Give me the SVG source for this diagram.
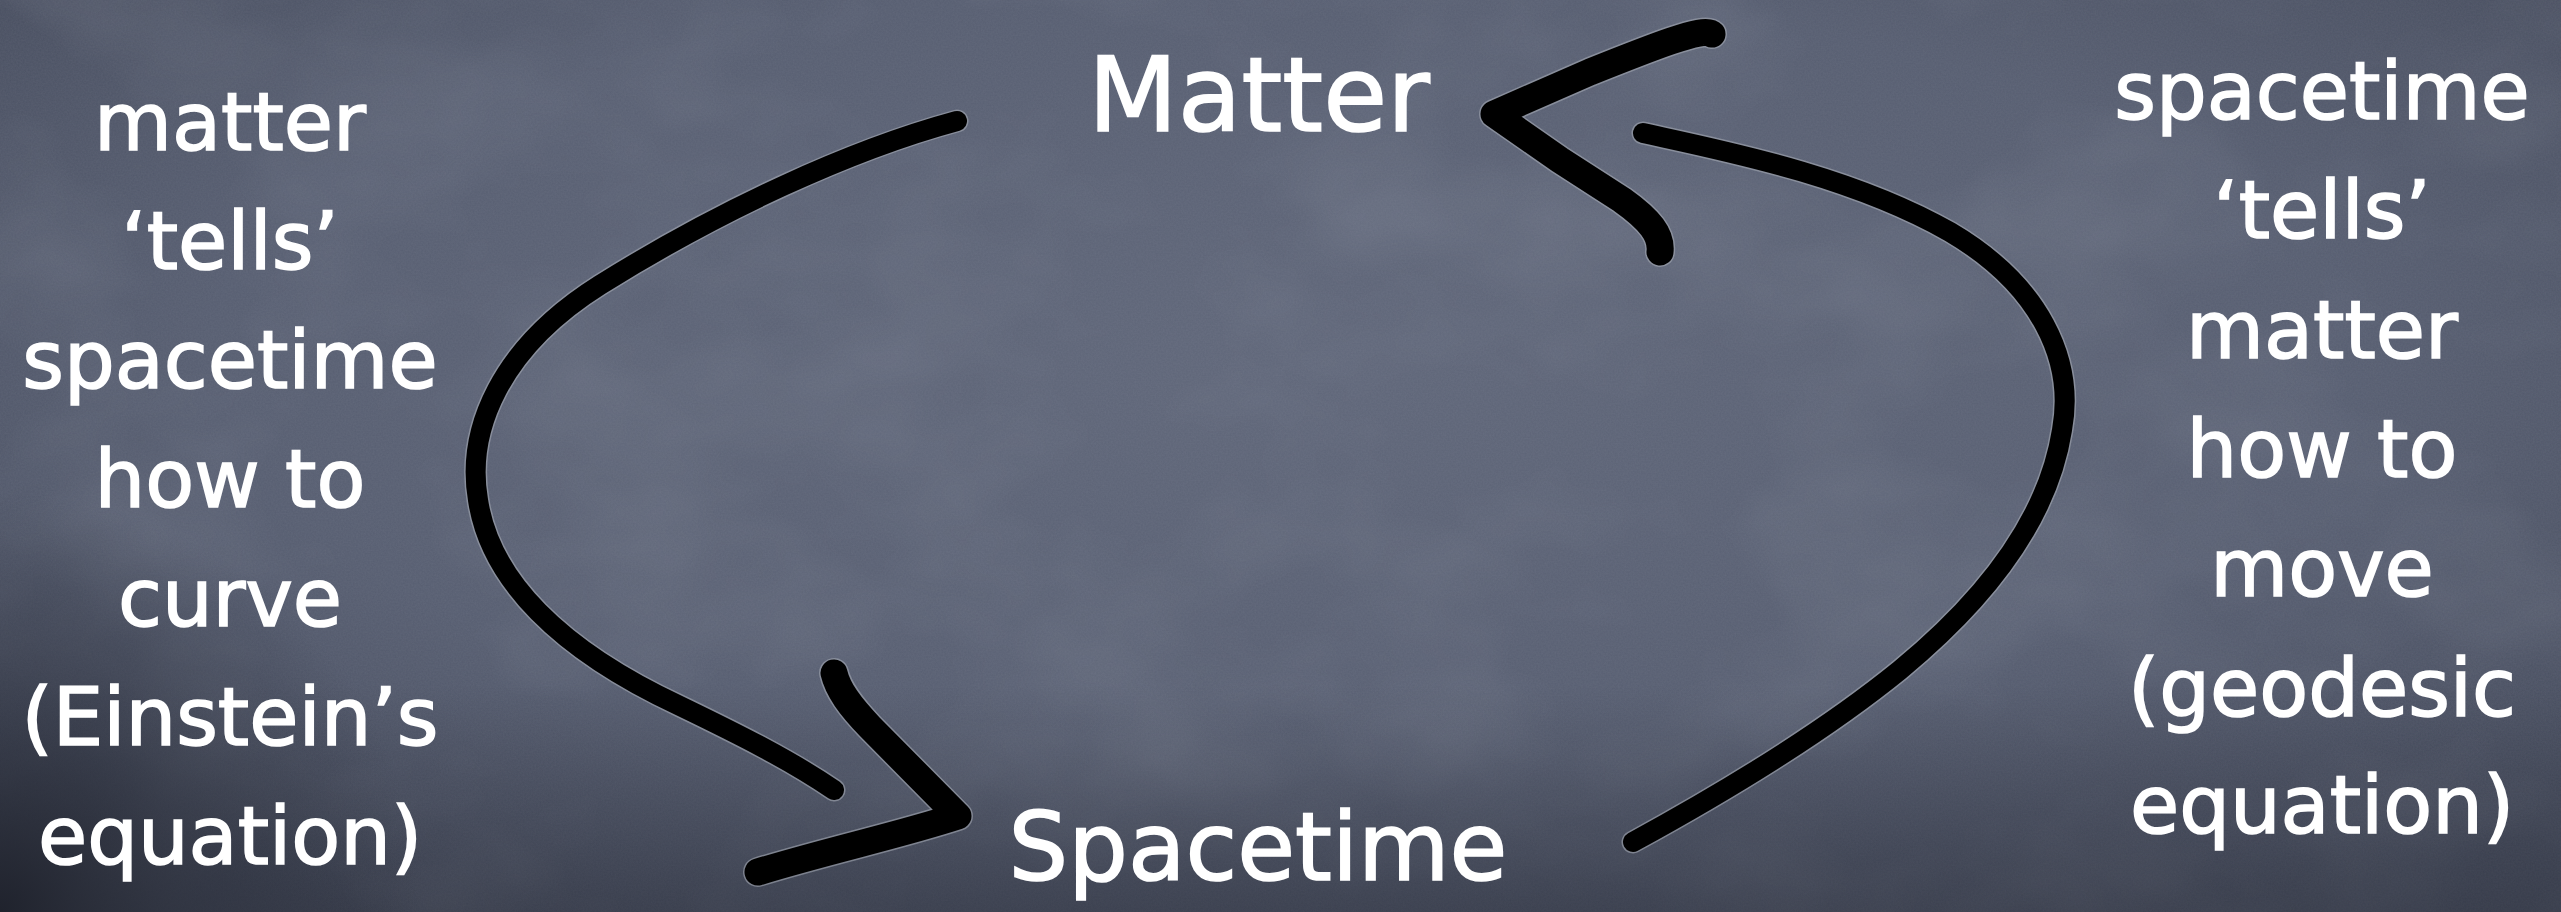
<svg xmlns="http://www.w3.org/2000/svg" width="2561" height="912" viewBox="0 0 2561 912">
  <defs>
    <radialGradient id="board" cx="50%" cy="40%" r="70%">
      <stop offset="0" stop-color="#60677a"/>
      <stop offset="0.6" stop-color="#575e71"/>
      <stop offset="1" stop-color="#454b5c"/>
    </radialGradient>
    <radialGradient id="cornerBL" cx="0" cy="912" r="420" gradientUnits="userSpaceOnUse">
      <stop offset="0" stop-color="#1e212b" stop-opacity="0.95"/>
      <stop offset="0.45" stop-color="#2a2e3a" stop-opacity="0.55"/>
      <stop offset="1" stop-color="#2a2e3a" stop-opacity="0"/>
    </radialGradient>
    <linearGradient id="bottomShade" x1="0" y1="0" x2="0" y2="1">
      <stop offset="0.75" stop-color="#1e212b" stop-opacity="0"/>
      <stop offset="1" stop-color="#1e212b" stop-opacity="0.35"/>
    </linearGradient>
    <filter id="chalk" x="0" y="0" width="100%" height="100%">
      <feTurbulence type="fractalNoise" baseFrequency="0.004 0.006" numOctaves="4" seed="7"/>
      <feColorMatrix type="matrix" values="0 0 0 0 0.85  0 0 0 0 0.88  0 0 0 0 0.95  0 0 0 1.1 -0.45"/>
    </filter>
    <filter id="grain" x="0" y="0" width="100%" height="100%">
      <feTurbulence type="fractalNoise" baseFrequency="0.6" numOctaves="2" seed="3"/>
      <feColorMatrix type="matrix" values="0 0 0 0 0.5  0 0 0 0 0.52  0 0 0 0 0.58  0 0 0 0.2 0"/>
    </filter>
  </defs>
  <style>
    .lbl { font-family: "DejaVu Sans", "Liberation Sans", sans-serif; fill: #ffffff; stroke: #ffffff; stroke-width: 1.6px; text-anchor: middle; }
    .side { font-size: 80px; }
    .node { font-size: 104px; }
    .halo { fill: none; stroke: #a4a9b3; stroke-opacity: 0.6; stroke-linecap: round; stroke-linejoin: round; }
    .ink { fill: none; stroke: #000000; stroke-linecap: round; stroke-linejoin: round; }
    .curve { stroke-width: 20; }
    .curve.halo { stroke-width: 23; }
    .head { stroke-width: 27; }
    .head.halo { stroke-width: 30; }
  </style>

  <rect width="2561" height="912" fill="url(#board)"/>
  <rect width="2561" height="912" filter="url(#chalk)" opacity="0.15"/>
  <rect width="2561" height="912" filter="url(#grain)" opacity="0.5"/>
  <rect width="2561" height="912" fill="url(#bottomShade)"/>
  <rect width="2561" height="912" fill="url(#cornerBL)"/>

  <g id="label-left">
    <text class="lbl side" x="230" y="150">matter</text>
    <text class="lbl side" x="230" y="269">‘tells’</text>
    <text class="lbl side" x="230" y="388">spacetime</text>
    <text class="lbl side" x="230" y="507">how to</text>
    <text class="lbl side" x="230" y="626">curve</text>
    <text class="lbl side" x="230" y="745">(Einstein’s</text>
    <text class="lbl side" x="230" y="864">equation)</text>
  </g>

  <g id="label-right">
    <text class="lbl side" x="2322" y="119">spacetime</text>
    <text class="lbl side" x="2322" y="238">‘tells’</text>
    <text class="lbl side" x="2322" y="358">matter</text>
    <text class="lbl side" x="2322" y="477">how to</text>
    <text class="lbl side" x="2322" y="596">move</text>
    <text class="lbl side" x="2322" y="716">(geodesic</text>
    <text class="lbl side" x="2322" y="833">equation)</text>
  </g>

  <g id="node-matter">
    <text class="lbl node" x="1259" y="131">Matter</text>
  </g>

  <g id="node-spacetime">
    <text class="lbl" x="1258" y="880" style="font-size:94px">Spacetime</text>
  </g>

  <g id="connectors">
    <!-- matter tells spacetime: left curve with arrowhead at Spacetime -->
    <path class="halo curve" d="M957,121 C850,150 720,210 600,285 C500,348 466,430 478,500 C490,580 560,650 680,706 C740,735 790,760 834,790"/>
    <path class="ink curve" d="M957,121 C850,150 720,210 600,285 C500,348 466,430 478,500 C490,580 560,650 680,706 C740,735 790,760 834,790"/>
    <path class="halo head" d="M834,673 C838,690 850,706 870,727 L958,816 C900,835 830,850 758,872"/>
    <path class="ink head" d="M834,673 C838,690 850,706 870,727 L958,816 C900,835 830,850 758,872"/>

    <!-- spacetime tells matter: right curve with arrowhead at Matter -->
    <path class="halo curve" d="M1643,133 C1720,150 1850,175 1950,232 C2040,285 2075,360 2062,430 C2048,520 1985,600 1900,670 C1820,735 1710,800 1633,842"/>
    <path class="ink curve" d="M1643,133 C1720,150 1850,175 1950,232 C2040,285 2075,360 2062,430 C2048,520 1985,600 1900,670 C1820,735 1710,800 1633,842"/>
    <path class="halo head" d="M1712,34 C1705,26 1650,48 1590,72 L1494,114 L1560,160 L1622,200 C1650,220 1662,235 1660,252"/>
    <path class="ink head" d="M1712,34 C1705,26 1650,48 1590,72 L1494,114 L1560,160 L1622,200 C1650,220 1662,235 1660,252"/>
  </g>
</svg>
